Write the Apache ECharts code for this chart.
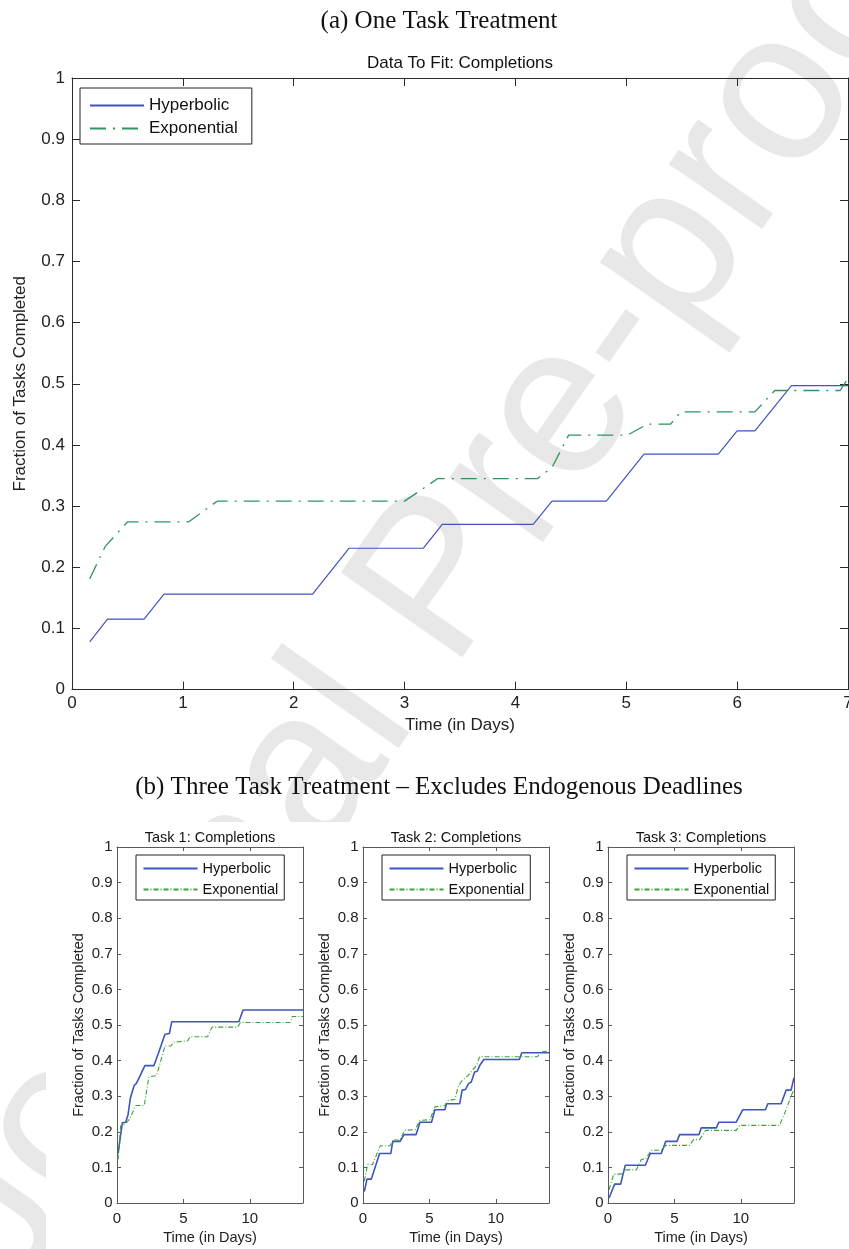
<!DOCTYPE html>
<html><head><meta charset="utf-8">
<script src="https://cdn.jsdelivr.net/npm/echarts@6/dist/echarts.min.js"></script>
<style>html,body{margin:0;padding:0;background:#fff}#c{width:849px;height:1249px}</style>
</head><body><div id="c"></div>
<script>
// ---- data (x = time in days, y = fraction of tasks completed) ----
const oneHyperbolic = [[0.16,0.078],[0.32,0.115],[0.65,0.115],[0.83,0.156],[2.17,0.156],[2.50,0.231],[3.17,0.231],[3.34,0.270],[4.16,0.270],[4.33,0.308],[4.82,0.308],[5.16,0.385],[5.83,0.385],[6.00,0.423],[6.16,0.423],[6.49,0.497],[7.0,0.497]];
const oneExponential = [[0.16,0.181],[0.30,0.234],[0.50,0.274],[1.05,0.274],[1.31,0.308],[3.0,0.308],[3.30,0.345],[4.20,0.345],[4.33,0.363],[4.48,0.416],[5.01,0.416],[5.19,0.434],[5.40,0.434],[5.49,0.454],[6.16,0.454],[6.34,0.489],[6.93,0.489],[7.0,0.509]];
const task1Hyperbolic = [[0.08,0.139],[0.40,0.225],[0.66,0.227],[0.83,0.248],[1.01,0.295],[1.29,0.330],[1.46,0.336],[1.67,0.352],[1.82,0.354],[2.10,0.386],[2.78,0.386],[3.13,0.422],[3.28,0.424],[3.61,0.474],[3.94,0.476],[4.12,0.509],[9.17,0.509],[9.49,0.542],[14,0.542]];
const task1Exponential = [[0.08,0.122],[0.28,0.217],[0.58,0.220],[0.96,0.236],[1.41,0.274],[2.05,0.274],[2.40,0.354],[2.98,0.358],[3.61,0.441],[4.04,0.441],[4.29,0.452],[5.30,0.455],[5.50,0.467],[6.82,0.467],[7.15,0.494],[9.09,0.494],[9.29,0.507],[13.03,0.507],[13.20,0.524],[14,0.524]];
const task2Hyperbolic = [[0.10,0.032],[0.30,0.067],[0.62,0.067],[1.25,0.139],[2.09,0.139],[2.24,0.173],[2.79,0.173],[3.09,0.192],[3.99,0.192],[4.29,0.227],[5.16,0.227],[5.41,0.262],[6.16,0.262],[6.28,0.279],[7.28,0.279],[7.46,0.317],[7.71,0.319],[7.96,0.336],[8.15,0.340],[8.40,0.368],[8.60,0.370],[8.78,0.386],[8.90,0.389],[9.10,0.403],[11.77,0.403],[11.95,0.422],[14,0.422]];
const task2Exponential = [[0.10,0.061],[0.35,0.108],[0.72,0.108],[1.30,0.161],[2.04,0.161],[2.29,0.178],[2.79,0.176],[3.12,0.204],[3.92,0.206],[4.29,0.232],[5.04,0.234],[5.41,0.270],[6.16,0.274],[6.41,0.288],[6.91,0.291],[7.16,0.326],[7.41,0.342],[7.90,0.358],[8.28,0.375],[8.53,0.385],[8.78,0.411],[13.14,0.411],[13.34,0.424],[14,0.427]];
const task3Hyperbolic = [[0.08,0.014],[0.50,0.053],[0.95,0.053],[1.30,0.106],[2.81,0.106],[3.18,0.139],[4.01,0.139],[4.34,0.173],[5.19,0.173],[5.39,0.192],[6.84,0.192],[7.02,0.211],[8.15,0.211],[8.35,0.227],[9.65,0.227],[10.15,0.262],[11.85,0.262],[12.03,0.279],[13.03,0.279],[13.41,0.317],[13.78,0.317],[14,0.352]];
const task3Exponential = [[0.08,0.037],[0.43,0.081],[1.00,0.081],[1.25,0.093],[2.13,0.093],[2.51,0.122],[2.83,0.124],[3.26,0.148],[4.01,0.148],[4.34,0.162],[6.14,0.162],[6.44,0.178],[6.89,0.178],[7.34,0.204],[9.65,0.204],[9.90,0.218],[12.91,0.218],[13.36,0.258],[13.78,0.300],[14,0.319]];

const seriesNames = ['Hyperbolic', 'Exponential'];
const panelTitles = ['Data To Fit: Completions', 'Task 1: Completions', 'Task 2: Completions', 'Task 3: Completions'];
const figureTitles = ['(a) One Task Treatment', '(b) Three Task Treatment \u2013 Excludes Endogenous Deadlines'];
const xAxisTitle = 'Time (in Days)';
const yAxisTitle = 'Fraction of Tasks Completed';
const watermarkText = 'Journal Pre-proof';
const topXTicks = [0, 1, 2, 3, 4, 5, 6, 7];
const bottomXTicks = [0, 5, 10];

// ---- styling ----
const FONT = 'Liberation Sans';
const BLUE = '#3f55c0';
const GREEN_TOP = '#2e9561';
const GREEN_BOT = '#3aa43a';

const grids = [
  {left: 72, top: 78, width: 776, height: 611.5, outerBoundsMode: 'none'},
  {left: 117, top: 847, width: 186, height: 356, outerBoundsMode: 'none'},
  {left: 363, top: 847, width: 186, height: 356, outerBoundsMode: 'none'},
  {left: 608, top: 847, width: 186, height: 356, outerBoundsMode: 'none'}
];

const xAxes = [], yAxes = [];
grids.forEach((g, i) => {
  const top = i === 0;
  const fs = top ? 17 : 15;
  const tickLen = top ? 8 : 4;
  const axisColor = top ? '#2a2a2a' : '#5a5a5a';
  const xmax = top ? 7 : 14;
  const xint = top ? 1 : 5;
  const ticks = top ? topXTicks : bottomXTicks;
  const base = {gridIndex: i, type: 'value', min: 0, max: xmax, interval: xint, splitLine: {show: false},
    axisLine: {show: true, onZero: false, lineStyle: {color: axisColor, width: 1}},
    axisTick: {show: true, inside: true, length: tickLen, lineStyle: {color: axisColor}}};
  xAxes.push(Object.assign({}, base, {position: 'bottom',
    name: xAxisTitle, nameLocation: 'middle', nameGap: top ? 27 : 27.5,
    nameTextStyle: {fontFamily: FONT, fontSize: top ? 17 : 14.5, color: '#222'},
    axisLabel: {show: true, margin: top ? 5 : 8.5, fontFamily: FONT, fontSize: fs, color: '#222',
      formatter: v => ticks.indexOf(v) >= 0 ? String(v) : ''}}));
  xAxes.push(Object.assign({}, base, {position: 'top', axisLabel: {show: false}}));
  const ybase = {gridIndex: i, type: 'value', min: 0, max: 1, interval: 0.1, splitLine: {show: false},
    axisLine: {show: true, onZero: false, lineStyle: {color: axisColor, width: 1}},
    axisTick: {show: true, inside: true, length: tickLen, lineStyle: {color: axisColor}}};
  yAxes.push(Object.assign({}, ybase, {position: 'left',
    name: yAxisTitle, nameLocation: 'middle', nameGap: top ? 43.5 : 31,
    nameTextStyle: {fontFamily: FONT, fontSize: top ? 17 : 14.5, color: '#222'},
    axisLabel: {show: true, margin: top ? 7 : 4.5, fontFamily: FONT, fontSize: fs, color: '#222'}}));
  yAxes.push(Object.assign({}, ybase, {position: 'right', axisLabel: {show: false}}));
});

const datasets = [
  [oneHyperbolic, oneExponential],
  [task1Hyperbolic, task1Exponential],
  [task2Hyperbolic, task2Exponential],
  [task3Hyperbolic, task3Exponential]
];
const series = [];
datasets.forEach((pair, i) => {
  const top = i === 0;
  series.push({name: seriesNames[0] + '_' + i, type: 'line', xAxisIndex: 2 * i, yAxisIndex: 2 * i,
    data: pair[0], symbol: 'none', animation: false,
    lineStyle: {color: BLUE, width: top ? 1.2 : 1.6}, itemStyle: {color: BLUE}});
  series.push({name: seriesNames[1] + '_' + i, type: 'line', xAxisIndex: 2 * i, yAxisIndex: 2 * i,
    data: pair[1], symbol: 'none', animation: false,
    lineStyle: {color: top ? GREEN_TOP : GREEN_BOT, width: top ? 1.3 : 1.1,
      type: top ? [16, 7, 2, 7] : [5, 2, 1, 2]},
    itemStyle: {color: top ? GREEN_TOP : GREEN_BOT}});
});

const legends = grids.map((g, i) => {
  const top = i === 0;
  return {
    orient: 'vertical', left: top ? 80 : g.left + 19, top: top ? 88 : 855,
    data: seriesNames.map(n => n + '_' + i),
    formatter: name => name.split('_')[0],
    itemWidth: 54, itemHeight: top ? 17 : 14, itemGap: 6,
    padding: top ? [9, 14, 7, 9] : [6, 6, 3, 6.5],
    borderColor: '#222', borderWidth: 1, borderRadius: 0, backgroundColor: '#fff',
    selectedMode: false,
    itemStyle: {opacity: 0, borderWidth: 0},
    textStyle: {fontFamily: FONT, fontSize: top ? 17 : 14.5, color: '#111', lineHeight: top ? 17 : 14}
  };
});

const titleCenters = [460, 210, 456, 701];
const graphic = [
  {type: 'text', x: 441, y: 584, rotation: 55 * Math.PI / 180, z: -10, silent: true,
   style: {text: watermarkText, font: '215px "Liberation Sans"', fill: '#e8e8e8', align: 'center', verticalAlign: 'middle'}},
  // opaque background of the lower (three-panel) figure, which hides the watermark there
  {type: 'rect', z: -5, silent: true, shape: {x: 46, y: 822, width: 803, height: 427}, style: {fill: '#fff'}},
  {type: 'text', x: 439, y: 21, silent: true,
   style: {text: figureTitles[0], font: '25px "Liberation Serif"', fill: '#111', align: 'center', verticalAlign: 'middle'}},
  {type: 'text', x: 439, y: 787, silent: true,
   style: {text: figureTitles[1], font: '25px "Liberation Serif"', fill: '#111', align: 'center', verticalAlign: 'middle'}}
];
panelTitles.forEach((t, i) => {
  graphic.push({type: 'text', x: titleCenters[i], y: i === 0 ? 63 : 838, silent: true,
    style: {text: t, font: (i === 0 ? 17 : 14.5) + 'px "Liberation Sans"', fill: '#111', align: 'center', verticalAlign: 'middle'}});
});

const chart = echarts.init(document.getElementById('c'), null, {renderer: 'canvas'});
chart.setOption({
  backgroundColor: '#fff',
  animation: false,
  grid: grids,
  xAxis: xAxes,
  yAxis: yAxes,
  legend: legends,
  series: series,
  graphic: graphic
});
</script>
</body></html>
